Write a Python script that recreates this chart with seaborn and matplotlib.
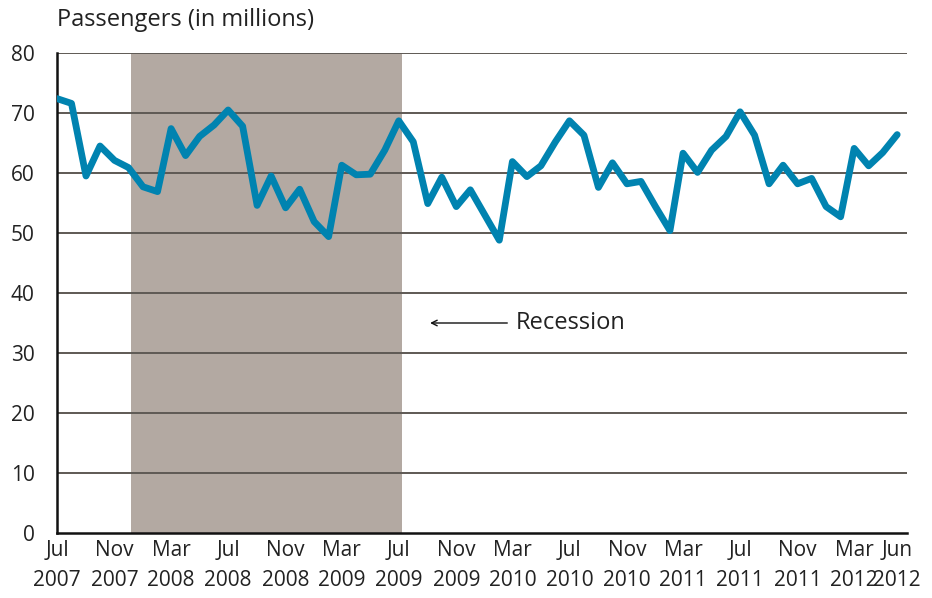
import pandas as pd
import numpy as np
import matplotlib
matplotlib.use("Agg")
import matplotlib.pyplot as plt
import seaborn as sns

# Monthly passengers (millions), Jul 2007 - Jun 2012
passengers = [72.4, 71.6, 59.5, 64.5, 62.1, 60.9, 57.7, 56.9, 67.4, 62.9,
              66.1, 68.0, 70.5, 67.8, 54.6, 59.5, 54.2, 57.3, 51.9, 49.4,
              61.3, 59.7, 59.8, 63.8, 68.7, 65.2, 54.9, 59.3, 54.4, 57.2,
              53.0, 48.8, 61.9, 59.4, 61.2, 65.2, 68.7, 66.3, 57.6, 61.7,
              58.2, 58.6, 54.4, 50.4, 63.3, 60.1, 63.8, 66.1, 70.2, 66.3,
              58.2, 61.3, 58.2, 59.1, 54.4, 52.7, 64.1, 61.2, 63.4, 66.4]
months = pd.date_range("2007-07-01", periods=len(passengers), freq="MS")

tick_dates = ["2007-07", "2007-11", "2008-03", "2008-07", "2008-11", "2009-03",
              "2009-07", "2009-11", "2010-03", "2010-07", "2010-11", "2011-03",
              "2011-07", "2011-11", "2012-03", "2012-06"]
tick_labels = ["Jul\n2007", "Nov\n2007", "Mar\n2008", "Jul\n2008", "Nov\n2008",
               "Mar\n2009", "Jul\n2009", "Nov\n2009", "Mar\n2010", "Jul\n2010",
               "Nov\n2010", "Mar\n2011", "Jul\n2011", "Nov\n2011", "Mar\n2012",
               "Jun\n2012"]
recession = ("2007-12-06", "2009-07-07")

df = pd.DataFrame({"month": months, "passengers": passengers})

sns.set_style("white")
plt.rcParams["font.family"] = ["Open Sans", "DejaVu Sans"]

fig = plt.figure(figsize=(9.32, 5.98), dpi=100)
ax = fig.add_axes([57 / 932, 1 - 533 / 598, 850 / 932, 480 / 598])

ax.axvspan(pd.Timestamp(recession[0]), pd.Timestamp(recession[1]),
           color="#b3a9a2", lw=0, zorder=0)
for v in range(10, 81, 10):
    ax.axhline(v, color="#5e5954", lw=1.4, zorder=1)

sns.lineplot(data=df, x="month", y="passengers", ax=ax, color="#0083b0",
             lw=4.9, zorder=3)

ax.set_ylim(0, 80)
ax.set_xlim(pd.Timestamp("2007-07-01"), pd.Timestamp("2012-06-22"))
ax.set_yticks(range(0, 81, 10))
ax.set_xticks([pd.Timestamp(t) for t in tick_dates])
ax.set_xticklabels(tick_labels, fontsize=15, color="#222222", linespacing=1.55)
ax.tick_params(axis="y", length=0, pad=16, labelsize=15, labelcolor="#222222")
ax.tick_params(axis="x", direction="in", length=13, width=1.2, color="#444444",
               pad=5)
for lab in ax.get_yticklabels():
    lab.set_horizontalalignment("right")

ax.set_xlabel("")
ax.set_ylabel("")
for s in ["top", "right"]:
    ax.spines[s].set_visible(False)
ax.spines["left"].set_color("#111111")
ax.spines["left"].set_linewidth(1.8)
ax.spines["bottom"].set_color("#111111")
ax.spines["bottom"].set_linewidth(1.8)

fig.text(57 / 932, 1 - 20 / 598, "Passengers (in millions)", fontsize=17,
         color="#222222", ha="left", va="center")

ax.annotate("", xy=(pd.Timestamp("2009-08-31"), 35),
            xytext=(pd.Timestamp("2010-02-24"), 35),
            arrowprops=dict(arrowstyle="->", color="#111111", lw=1.0))
ax.text(pd.Timestamp("2010-03-09"), 35, "Recession", fontsize=17,
        color="#222222", ha="left", va="center")

fig.savefig("out.png", dpi=100)
